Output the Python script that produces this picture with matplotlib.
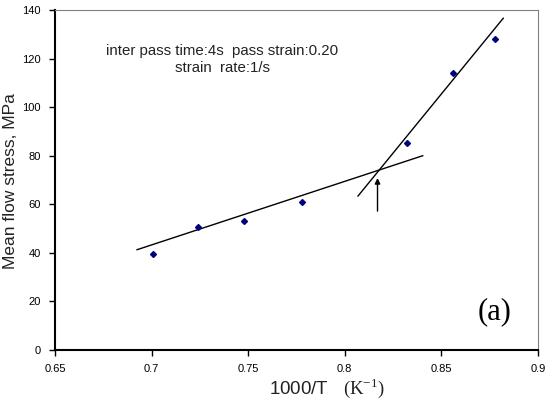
import matplotlib
matplotlib.use("Agg")
import matplotlib.pyplot as plt

plt.rcParams['font.family'] = ['Liberation Sans', 'DejaVu Sans']
plt.rcParams['mathtext.fontset'] = 'custom'
plt.rcParams['mathtext.rm'] = 'Liberation Serif'

# Measured mean flow stress vs inverse temperature
inv_temp = [0.701, 0.724, 0.748, 0.778, 0.8325, 0.856, 0.878]
flow_stress = [39.5, 50.6, 53.3, 60.9, 85.4, 113.9, 128.2]

# Two fitted regression segments (endpoints)
low_fit_x = [0.6925, 0.8404]
low_fit_y = [41.3, 80.0]
high_fit_x = [0.8069, 0.8821]
high_fit_y = [63.4, 136.6]

# Arrow marking the intersection (no-recrystallisation temperature)
arrow_x = 0.817
arrow_y = [57.2, 70.8]

x_ticks = [0.65, 0.7, 0.75, 0.8, 0.85, 0.9]
x_tick_labels = ['0.65', '0.7', '0.75', '0.8', '0.85', '0.9']
y_ticks = [0, 20, 40, 60, 80, 100, 120, 140]

fig = plt.figure(figsize=(5.46, 4.11), dpi=100)
ax = fig.add_axes([0.1007, 0.1484, 0.8843, 0.8273])

ax.plot(low_fit_x, low_fit_y, color='black', lw=1.0)
ax.plot(high_fit_x, high_fit_y, color='black', lw=1.0)
ax.plot(inv_temp, flow_stress, linestyle='none', marker='D', markersize=3.0,
        color='#000080')
ax.annotate('', xy=(arrow_x, arrow_y[1]), xytext=(arrow_x, arrow_y[0]),
            arrowprops=dict(arrowstyle='-|>', color='black', lw=1.0,
                            mutation_scale=8, shrinkA=0, shrinkB=0))

ax.set_xlim(0.65, 0.9)
ax.set_ylim(0, 140)
ax.set_xticks(x_ticks)
ax.set_xticklabels(x_tick_labels)
ax.set_yticks(y_ticks)
ax.tick_params(axis='both', labelsize=8, length=4, width=1.0, direction='out',
               colors='black', pad=6)

for side in ('top', 'right'):
    ax.spines[side].set_color('#808080')
    ax.spines[side].set_linewidth(0.8)
for side in ('left', 'bottom'):
    ax.spines[side].set_color('black')
    ax.spines[side].set_linewidth(1.5)

ax.text(0.7364, 123.1, 'inter pass time:4s  pass strain:0.20',
        ha='center', va='center', fontsize=10.8, color='#222222')
ax.text(0.7368, 116.2, 'strain  rate:1/s', ha='center', va='center',
        fontsize=10.8, color='#222222')
ax.text(0.8777, 15.6, '(a)', ha='center', va='center', fontsize=22,
        family='Liberation Serif')

ax.set_ylabel('Mean flow stress, MPa', fontsize=12.5, color='#222222')
ax.yaxis.set_label_coords(-0.0776, 0.497)
ax.set_xlabel(r'1000/T   $(\mathrm{K}^{-1})$', fontsize=13.5, va='center',
              color='#222222')
ax.xaxis.set_label_coords(0.563, -0.112)

fig.savefig('out.png', dpi=100)
